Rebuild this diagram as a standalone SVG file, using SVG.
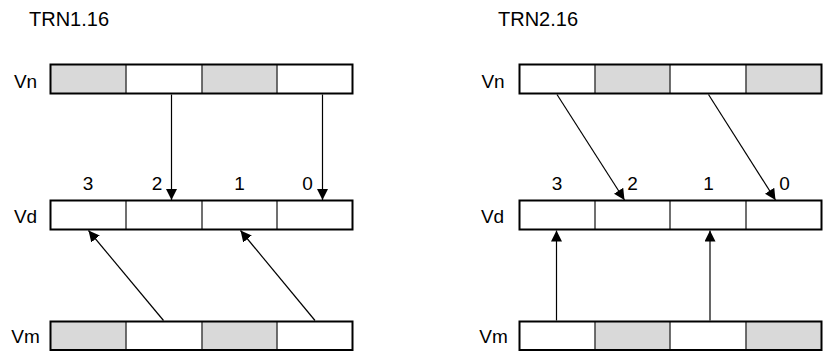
<svg xmlns="http://www.w3.org/2000/svg" width="824" height="352" viewBox="0 0 824 352">
<style>
text{font-family:"Liberation Sans",Arial,sans-serif;fill:#000}
.title{font-size:20px}
.lbl{font-size:19px;text-anchor:middle}
.num{font-size:19px;text-anchor:middle}
.g{fill:#d9d9d9}
.w{fill:#fff}
.div{stroke:#404040;stroke-width:1.5}
.box{fill:none;stroke:#000;stroke-width:2}
.arr{stroke:#000;stroke-width:1.2;fill:none;marker-end:url(#ah)}
</style>
<defs>
<marker id="ah" markerUnits="userSpaceOnUse" markerWidth="11" markerHeight="11" refX="11" refY="5.5" orient="auto" viewBox="0 0 11 11">
<path d="M0,0 L11,5.5 L0,11 z" fill="#000"/>
</marker>
</defs>
<rect width="824" height="352" fill="#fff"/>

<text class="title" x="29" y="26">TRN1.16</text>
<text class="title" x="498" y="26">TRN2.16</text>

<g id="L-Vn">
<rect class="g" x="50.5" y="64.5" width="75.5" height="29"/>
<rect class="w" x="126" y="64.5" width="76" height="29"/>
<rect class="g" x="202" y="64.5" width="75" height="29"/>
<rect class="w" x="277" y="64.5" width="75.5" height="29"/>
<line class="div" x1="126" y1="64.5" x2="126" y2="93.5"/>
<line class="div" x1="202" y1="64.5" x2="202" y2="93.5"/>
<line class="div" x1="277" y1="64.5" x2="277" y2="93.5"/>
<rect class="box" x="50.5" y="64.5" width="302" height="29"/>
<text class="lbl" x="25.5" y="87.5">Vn</text>
</g>

<g id="L-Vd">
<rect class="w" x="50.5" y="200.5" width="302" height="29"/>
<line class="div" x1="126" y1="200.5" x2="126" y2="229.5"/>
<line class="div" x1="202" y1="200.5" x2="202" y2="229.5"/>
<line class="div" x1="277" y1="200.5" x2="277" y2="229.5"/>
<rect class="box" x="50.5" y="200.5" width="302" height="29"/>
<text class="lbl" x="25.5" y="223">Vd</text>
<text class="num" x="88" y="190">3</text>
<text class="num" x="157" y="190">2</text>
<text class="num" x="239.5" y="190">1</text>
<text class="num" x="307.5" y="190">0</text>
</g>

<g id="L-Vm">
<rect class="g" x="50.5" y="321.5" width="75.5" height="28.5"/>
<rect class="w" x="126" y="321.5" width="76" height="28.5"/>
<rect class="g" x="202" y="321.5" width="75" height="28.5"/>
<rect class="w" x="277" y="321.5" width="75.5" height="28.5"/>
<line class="div" x1="126" y1="321.5" x2="126" y2="350"/>
<line class="div" x1="202" y1="321.5" x2="202" y2="350"/>
<line class="div" x1="277" y1="321.5" x2="277" y2="350"/>
<rect class="box" x="50.5" y="321.5" width="302" height="28.5"/>
<text class="lbl" x="25.5" y="343">Vm</text>
</g>

<g id="R-Vn">
<rect class="w" x="519.5" y="64.5" width="75.5" height="29"/>
<rect class="g" x="595" y="64.5" width="75" height="29"/>
<rect class="w" x="670" y="64.5" width="76" height="29"/>
<rect class="g" x="746" y="64.5" width="75.5" height="29"/>
<line class="div" x1="595" y1="64.5" x2="595" y2="93.5"/>
<line class="div" x1="670" y1="64.5" x2="670" y2="93.5"/>
<line class="div" x1="746" y1="64.5" x2="746" y2="93.5"/>
<rect class="box" x="519.5" y="64.5" width="302" height="29"/>
<text class="lbl" x="493" y="87.5">Vn</text>
</g>

<g id="R-Vd">
<rect class="w" x="519.5" y="200.5" width="302" height="29"/>
<line class="div" x1="595" y1="200.5" x2="595" y2="229.5"/>
<line class="div" x1="670" y1="200.5" x2="670" y2="229.5"/>
<line class="div" x1="746" y1="200.5" x2="746" y2="229.5"/>
<rect class="box" x="519.5" y="200.5" width="302" height="29"/>
<text class="lbl" x="492.5" y="223">Vd</text>
<text class="num" x="557" y="190">3</text>
<text class="num" x="632.5" y="190">2</text>
<text class="num" x="708.5" y="190">1</text>
<text class="num" x="784.5" y="190">0</text>
</g>

<g id="R-Vm">
<rect class="w" x="519.5" y="321.5" width="75.5" height="28.5"/>
<rect class="g" x="595" y="321.5" width="75" height="28.5"/>
<rect class="w" x="670" y="321.5" width="76" height="28.5"/>
<rect class="g" x="746" y="321.5" width="75.5" height="28.5"/>
<line class="div" x1="595" y1="321.5" x2="595" y2="350"/>
<line class="div" x1="670" y1="321.5" x2="670" y2="350"/>
<line class="div" x1="746" y1="321.5" x2="746" y2="350"/>
<rect class="box" x="519.5" y="321.5" width="302" height="28.5"/>
<text class="lbl" x="493.5" y="343">Vm</text>
</g>

<g id="connectors">
<line class="arr" x1="171.5" y1="94.5" x2="171.5" y2="200"/>
<line class="arr" x1="322.5" y1="94.5" x2="322.5" y2="200"/>
<line class="arr" x1="163.5" y1="320.5" x2="88.5" y2="230.5"/>
<line class="arr" x1="315" y1="320.5" x2="240.5" y2="230.5"/>
<line class="arr" x1="557" y1="94.5" x2="624.5" y2="200"/>
<line class="arr" x1="708.5" y1="94.5" x2="775.5" y2="200"/>
<line class="arr" x1="556.5" y1="320.5" x2="556.5" y2="230.5"/>
<line class="arr" x1="710" y1="320.5" x2="710" y2="230.5"/>
</g>
</svg>
